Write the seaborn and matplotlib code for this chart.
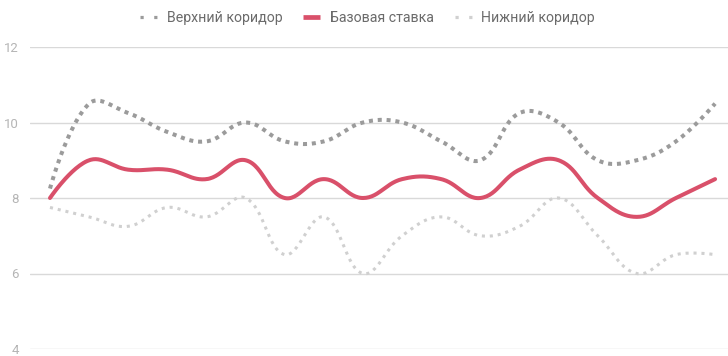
import numpy as np
import matplotlib
matplotlib.use("Agg")
import matplotlib.pyplot as plt
from matplotlib.lines import Line2D
import seaborn as sns

# Monthly corridor values (percent)
upper = [8.25, 10.5, 10.25, 9.75, 9.5, 10, 9.5, 9.5, 10, 10, 9.5, 9, 10.25, 10, 9, 9, 9.5, 10.5]
base = [8, 9, 8.75, 8.75, 8.5, 9, 8, 8.5, 8, 8.5, 8.5, 8, 8.75, 9, 8, 7.5, 8, 8.5]
lower = [7.75, 7.5, 7.25, 7.75, 7.5, 8, 6.5, 7.5, 6, 7, 7.5, 7, 7.25, 8, 7, 6, 6.5, 6.5]
labels = ["Верхний коридор", "Базовая ставка", "Нижний коридор"]
y_ticks = [4, 6, 8, 10, 12]

UPPER_C = "#9b9b9b"
BASE_C = "#d9506a"
LOWER_C = "#d0d0d0"


def spline(xs, ys, sx=39.1, sy=38.0, tension=0.4, steps=30):
    """Tension-based cubic bezier through the given points."""
    px = np.asarray(xs, float) * sx
    py = np.asarray(ys, float) * sy
    n = len(px)
    cp_prev = np.zeros((n, 2))
    cp_next = np.zeros((n, 2))
    for i in range(n):
        cur = np.array([px[i], py[i]])
        if i == 0 or i == n - 1:
            cp_prev[i] = cur
            cp_next[i] = cur
            continue
        prev = np.array([px[i - 1], py[i - 1]])
        nxt = np.array([px[i + 1], py[i + 1]])
        d01 = np.hypot(*(cur - prev))
        d12 = np.hypot(*(nxt - cur))
        s01 = d01 / (d01 + d12)
        s12 = d12 / (d01 + d12)
        cp_prev[i] = cur - tension * s01 * (nxt - prev)
        cp_next[i] = cur + tension * s12 * (nxt - prev)
    out_x, out_y = [], []
    t = np.linspace(0, 1, steps)
    for i in range(n - 1):
        p0 = np.array([px[i], py[i]])
        p3 = np.array([px[i + 1], py[i + 1]])
        p1, p2 = cp_next[i], cp_prev[i + 1]
        seg = ((1 - t) ** 3)[:, None] * p0 + (3 * (1 - t) ** 2 * t)[:, None] * p1 \
            + (3 * (1 - t) * t ** 2)[:, None] * p2 + (t ** 3)[:, None] * p3
        if i > 0:
            seg = seg[1:]
        out_x.append(seg[:, 0])
        out_y.append(seg[:, 1])
    return np.concatenate(out_x) / sx, np.concatenate(out_y) / sy


sns.set_theme(style="white")
plt.rcParams["font.family"] = ["Roboto", "DejaVu Sans"]

fig = plt.figure(figsize=(7.28, 3.56), dpi=100)
ax = fig.add_axes([30 / 728, 1 - 349 / 356, 698 / 728, (349 - 47) / 356])

idx = np.arange(len(base))

series = [
    (upper, UPPER_C, 2.9, (0, (1, 1.2))),
    (lower, LOWER_C, 2.2, (0, (1, 1.6))),
    (base, BASE_C, 2.9, "-"),
]
for vals, color, lw, ls in series:
    sx, sy = spline(idx, vals)
    line_ax = sns.lineplot(x=sx, y=sy, ax=ax, sort=False, estimator=None,
                           color=color, linewidth=lw)
    ln = line_ax.get_lines()[-1]
    ln.set_linestyle(ls)
    ln.set_dash_capstyle("butt")
    ln.set_solid_capstyle("round")

ax.set_xlim(-0.511, 17.33)
ax.set_ylim(4, 12)
ax.set_yticks(y_ticks)
ax.set_yticklabels([str(v) for v in y_ticks])
ax.set_xticks([])
ax.grid(axis="y", color="#d9d9d9", linewidth=1.0)
ax.set_axisbelow(True)
for s in ax.spines.values():
    s.set_visible(False)
ax.tick_params(axis="y", length=0, pad=8, labelsize=9.5, labelcolor="#b5b5b5")
for lab in ax.get_yticklabels():
    lab.set_horizontalalignment("right")
ax.set_xlabel("")
ax.set_ylabel("")

handles = [
    Line2D([], [], color=UPPER_C, linewidth=2.3, linestyle=(0, (1, 3.3)), dash_capstyle="butt"),
    Line2D([], [], color=BASE_C, linewidth=3.4, solid_capstyle="butt"),
    Line2D([], [], color=LOWER_C, linewidth=2.3, linestyle=(0, (1, 3.3)), dash_capstyle="butt"),
]
fig.legend(handles, labels, loc="center", bbox_to_anchor=(0.505, 1 - 18 / 356), ncol=3,
           frameon=False, fontsize=10.2, handlelength=1.2, handletextpad=0.7,
           columnspacing=1.45, labelcolor="#6b6b6b")

fig.savefig("out.png", dpi=100)
